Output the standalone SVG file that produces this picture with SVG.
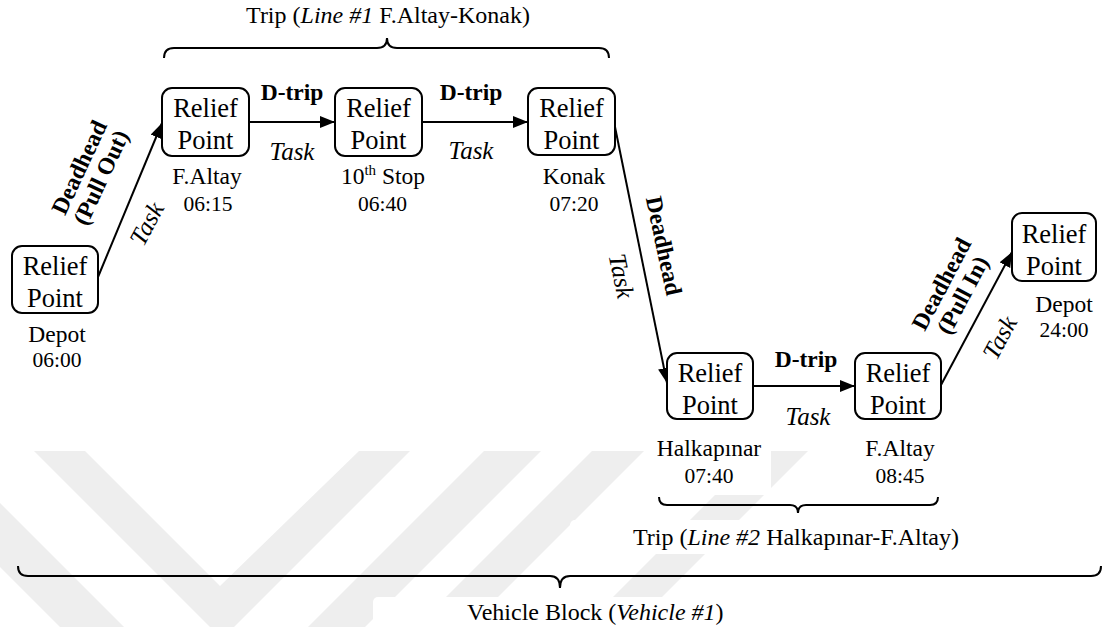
<svg xmlns="http://www.w3.org/2000/svg" width="1108" height="627" viewBox="0 0 1108 627">
<defs>
<style>
text{font-family:"Liberation Serif","Times New Roman",serif;fill:#000;text-anchor:middle}
.box{fill:#fff;stroke:#000;stroke-width:2}
.rp{font-size:26.5px}
.lbl{font-size:23.5px}
.tm{font-size:21.5px}
.dt{font-size:23.5px;font-weight:bold}
.task{font-size:25px;font-style:italic}
.cap{font-size:24px}
.conn{stroke:#000;stroke-width:2;fill:none;marker-end:url(#arr)}
.brace{stroke:#000;stroke-width:2;fill:none}
.wm{fill:#eeeeee}
.it{font-style:italic}
</style>
<marker id="arr" viewBox="0 0 15 12" refX="15" refY="6" markerWidth="15" markerHeight="12" markerUnits="userSpaceOnUse" orient="auto">
<path d="M0,0 L15,6 L0,12 z" fill="#000"/>
</marker>
</defs>
<rect width="1108" height="627" fill="#fff"/>
<g id="watermark">
<polygon class="wm" points="34,451 85,451 220,586 359,451 410,451 234,627 210,627"/>
<polygon class="wm" points="0,503 124,627 60,627 0,567"/>
<polygon class="wm" points="484,451 541,451 365,627 308,627"/>
<polygon class="wm" points="592,451 644,451 468,627 416,627"/>
<polygon class="wm" points="759,451 808,451 632,627 583,627"/>
<rect x="644" y="442" width="127" height="53" rx="5" fill="#fff"/>
<rect x="570" y="520" width="420" height="34" rx="5" fill="#fff"/>
<rect x="373" y="597" width="420" height="30" rx="5" fill="#fff"/>
</g>
<g id="connectors">
<line class="conn" x1="98" y1="277" x2="162" y2="123"/>
<line class="conn" x1="249" y1="122" x2="335" y2="122"/>
<line class="conn" x1="422" y1="122" x2="528" y2="122"/>
<line class="conn" x1="614" y1="122" x2="667" y2="383"/>
<line class="conn" x1="753" y1="386" x2="855" y2="386"/>
<line class="conn" x1="941" y1="385" x2="1012" y2="252"/>
<g transform="translate(89,172) rotate(-65)"><text class="dt" y="-3">Deadhead</text><text class="dt" y="21">(Pull Out)</text></g>
<text class="task" transform="translate(147,224) rotate(-62)" y="8">Task</text>
<text class="dt" x="292" y="100">D-trip</text>
<text class="task" x="292" y="160">Task</text>
<text class="dt" x="471" y="100">D-trip</text>
<text class="task" x="471" y="159">Task</text>
<text class="dt" transform="translate(663,246) rotate(78)" y="7">Deadhead</text>
<text class="task" transform="translate(621,276) rotate(78)" y="8">Task</text>
<text class="dt" x="806" y="367">D-trip</text>
<text class="task" x="808" y="425">Task</text>
<g transform="translate(951,289) rotate(-62)"><text class="dt" y="-3">Deadhead</text><text class="dt" y="21">(Pull In)</text></g>
<text class="task" transform="translate(1000,338) rotate(-62)" y="8">Task</text>
</g>
<g id="nodeA"><rect class="box" x="12" y="246" width="86" height="67" rx="10"/><text class="rp" x="55" y="275">Relief</text><text class="rp" x="55" y="307">Point</text><text class="lbl" x="57" y="342">Depot</text><text class="tm" x="57" y="367">06:00</text></g>
<g id="nodeB"><rect class="box" x="162" y="88" width="87" height="68" rx="10"/><text class="rp" x="205.5" y="117">Relief</text><text class="rp" x="205.5" y="149">Point</text><text class="lbl" x="207" y="184">F.Altay</text><text class="tm" x="208" y="211">06:15</text></g>
<g id="nodeC"><rect class="box" x="335" y="88" width="87" height="68" rx="10"/><text class="rp" x="378.5" y="117">Relief</text><text class="rp" x="378.5" y="149">Point</text><text class="lbl" x="383" y="184">10<tspan font-size="15" dy="-9">th</tspan><tspan dy="9"> Stop</tspan></text><text class="tm" x="382.5" y="211">06:40</text></g>
<g id="nodeD"><rect class="box" x="528" y="88" width="87" height="67" rx="10"/><text class="rp" x="571.5" y="117">Relief</text><text class="rp" x="571.5" y="149">Point</text><text class="lbl" x="574" y="184">Konak</text><text class="tm" x="574" y="211">07:20</text></g>
<g id="nodeE"><rect class="box" x="667" y="353" width="86" height="66" rx="10"/><text class="rp" x="710" y="382">Relief</text><text class="rp" x="710" y="414">Point</text><text class="lbl" x="709" y="456">Halkapınar</text><text class="tm" x="709" y="483">07:40</text></g>
<g id="nodeF"><rect class="box" x="855" y="353" width="86" height="66" rx="10"/><text class="rp" x="898" y="382">Relief</text><text class="rp" x="898" y="414">Point</text><text class="lbl" x="900" y="456">F.Altay</text><text class="tm" x="900" y="483">08:45</text></g>
<g id="nodeG"><rect class="box" x="1012" y="213" width="84" height="68" rx="10"/><text class="rp" x="1054" y="243">Relief</text><text class="rp" x="1054" y="275">Point</text><text class="lbl" x="1064" y="312">Depot</text><text class="tm" x="1064" y="337">24:00</text></g>
<g id="trip1"><path class="brace" d="M164,58 Q164,48 174,48 L377,48 Q387,48 387,38 Q387,48 397,48 L599,48 Q609,48 609,58"/><text class="cap" x="388" y="23">Trip (<tspan class="it">Line #1</tspan> F.Altay-Konak)</text></g>
<g id="trip2"><path class="brace" d="M659,497 Q659,505 667,505 L790,505 Q798,505 798,513 Q798,505 806,505 L930,505 Q938,505 938,497"/><text class="cap" x="796" y="545">Trip (<tspan class="it">Line #2</tspan> Halkapınar-F.Altay)</text></g>
<g id="block"><path class="brace" d="M18,566 Q18,576 28,576 L550,576 Q560,576 560,588 Q560,576 570,576 L1091,576 Q1101,576 1101,566"/><text class="cap" x="467" y="620" style="text-anchor:start">Vehicle Block (<tspan class="it">Vehicle #1</tspan>)</text></g>
</svg>
